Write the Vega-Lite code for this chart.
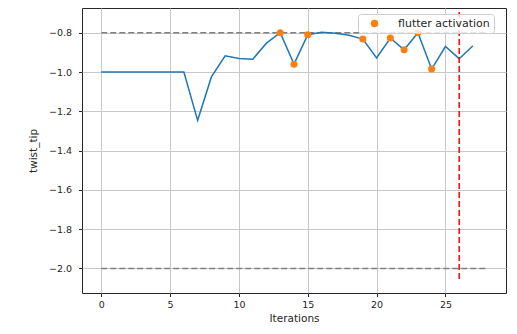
{
  "$schema": "https://vega.github.io/schema/vega-lite/v6.json",
  "width": 424,
  "height": 285,
  "autosize": {"type": "none"},
  "padding": {"left": 82, "top": 8, "right": 11, "bottom": 41},
  "background": "white",
  "config": {
    "font": "DejaVu Sans",
    "view": {"stroke": "#262626", "strokeWidth": 1},
    "axis": {
      "domain": false,
      "grid": true,
      "gridColor": "#c8c8c8",
      "gridWidth": 1,
      "tickColor": "#262626",
      "tickSize": 3.5,
      "tickWidth": 1,
      "labelFont": "DejaVu Sans",
      "labelFontSize": 9.5,
      "labelColor": "#262626",
      "titleFont": "DejaVu Sans",
      "titleFontSize": 10.5,
      "titleFontWeight": "normal",
      "titleColor": "#262626"
    },
    "legend": {
      "orient": "none",
      "legendX": 276,
      "legendY": 6,
      "padding": 4,
      "fillColor": "rgba(255,255,255,0.8)",
      "strokeColor": "#cccccc",
      "cornerRadius": 3,
      "labelFont": "DejaVu Sans",
      "labelFontSize": 11,
      "labelColor": "#262626",
      "symbolOffset": 7,
      "labelOffset": 18,
      "symbolSize": 55,
      "symbolType": "circle",
      "symbolStrokeWidth": 0
    }
  },
  "datasets": {
    "tip": [
      {"iteration": 0, "twist_tip": -1.0, "flutter": false},
      {"iteration": 1, "twist_tip": -1.0, "flutter": false},
      {"iteration": 2, "twist_tip": -1.0, "flutter": false},
      {"iteration": 3, "twist_tip": -1.0, "flutter": false},
      {"iteration": 4, "twist_tip": -1.0, "flutter": false},
      {"iteration": 5, "twist_tip": -1.0, "flutter": false},
      {"iteration": 6, "twist_tip": -1.0, "flutter": false},
      {"iteration": 7, "twist_tip": -1.246, "flutter": false},
      {"iteration": 8, "twist_tip": -1.025, "flutter": false},
      {"iteration": 9, "twist_tip": -0.917, "flutter": false},
      {"iteration": 10, "twist_tip": -0.931, "flutter": false},
      {"iteration": 11, "twist_tip": -0.935, "flutter": false},
      {"iteration": 12, "twist_tip": -0.853, "flutter": false},
      {"iteration": 13, "twist_tip": -0.8, "flutter": true},
      {"iteration": 14, "twist_tip": -0.96, "flutter": true},
      {"iteration": 15, "twist_tip": -0.81, "flutter": true},
      {"iteration": 16, "twist_tip": -0.797, "flutter": false},
      {"iteration": 17, "twist_tip": -0.802, "flutter": false},
      {"iteration": 18, "twist_tip": -0.813, "flutter": false},
      {"iteration": 19, "twist_tip": -0.832, "flutter": true},
      {"iteration": 20, "twist_tip": -0.928, "flutter": false},
      {"iteration": 21, "twist_tip": -0.827, "flutter": true},
      {"iteration": 22, "twist_tip": -0.887, "flutter": true},
      {"iteration": 23, "twist_tip": -0.8, "flutter": true},
      {"iteration": 24, "twist_tip": -0.985, "flutter": true},
      {"iteration": 25, "twist_tip": -0.87, "flutter": false},
      {"iteration": 26, "twist_tip": -0.932, "flutter": false},
      {"iteration": 27, "twist_tip": -0.866, "flutter": false}
    ],
    "bounds": [
      {"start": 0, "end": 28, "level": -0.8},
      {"start": 0, "end": 28, "level": -2.0}
    ],
    "marker": [
      {"iteration": 26, "low": -2.054, "high": -0.68}
    ]
  },
  "encoding": {
    "x": {
      "field": "iteration",
      "type": "quantitative",
      "title": "Iterations",
      "titlePadding": 4,
      "scale": {"domain": [-1.4, 29.4], "nice": false, "zero": false},
      "axis": {"values": [0, 5, 10, 15, 20, 25], "labelPadding": 3}
    }
  },
  "layer": [
    {
      "data": {"name": "bounds"},
      "mark": {"type": "rule", "color": "#808080", "strokeWidth": 1.5, "strokeDash": [6, 3]},
      "encoding": {
        "x": {"field": "start", "type": "quantitative"},
        "x2": {"field": "end"},
        "y": {
          "field": "level",
          "type": "quantitative",
          "title": "twist_tip",
          "scale": {"domain": [-2.125, -0.674], "nice": false, "zero": false},
          "axis": {
            "values": [-2.0, -1.8, -1.6, -1.4, -1.2, -1.0, -0.8],
            "format": ".1f",
            "labelPadding": 7,
            "titlePadding": 10
          }
        }
      }
    },
    {
      "data": {"name": "tip"},
      "mark": {"type": "line", "color": "#1f77b4", "strokeWidth": 1.5},
      "encoding": {
        "y": {"field": "twist_tip", "type": "quantitative"}
      }
    },
    {
      "data": {"name": "tip"},
      "transform": [{"filter": "datum.flutter"}],
      "mark": {"type": "point", "filled": true, "opacity": 1, "size": 50},
      "encoding": {
        "y": {"field": "twist_tip", "type": "quantitative"},
        "color": {
          "datum": "flutter activation",
          "type": "nominal",
          "scale": {"range": ["#ff7f0e"]},
          "legend": {"title": null}
        }
      }
    },
    {
      "data": {"name": "marker"},
      "mark": {"type": "rule", "color": "#ff0000", "strokeWidth": 1.5, "strokeDash": [6, 3]},
      "encoding": {
        "y": {"field": "low", "type": "quantitative"},
        "y2": {"field": "high"}
      }
    }
  ]
}
